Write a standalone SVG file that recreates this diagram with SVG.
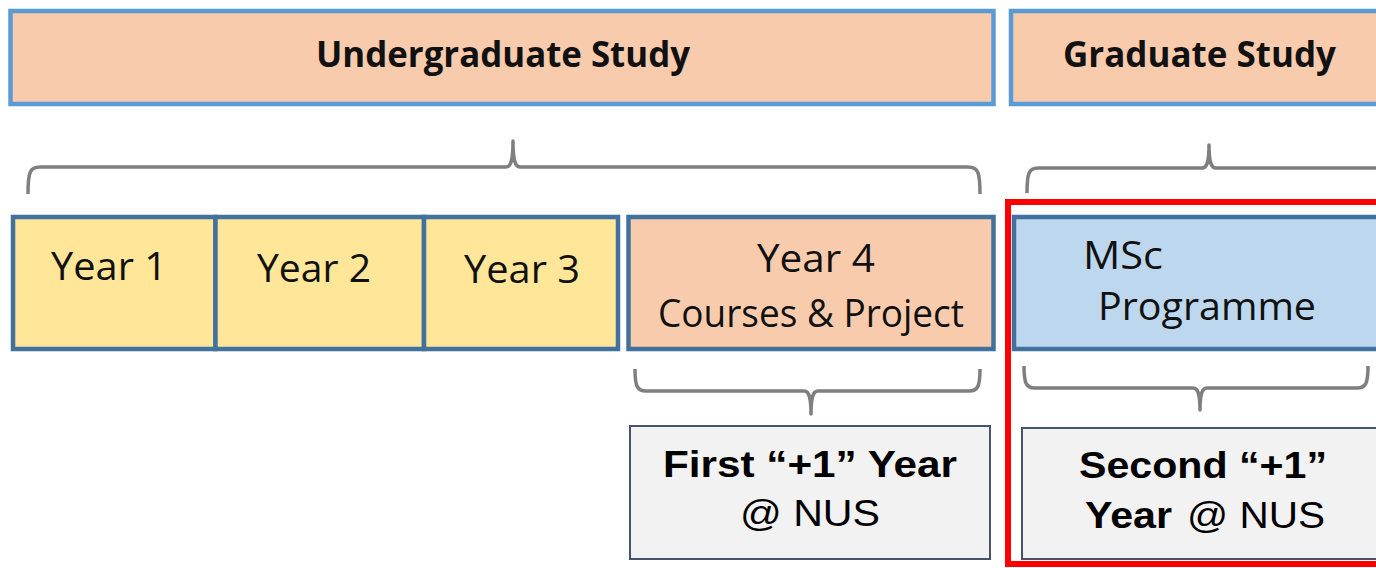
<svg xmlns="http://www.w3.org/2000/svg" width="1376" height="568" viewBox="0 0 1376 568">
<style>
.top{fill:#F8CBAD;stroke:#5B9BD5;stroke-width:4.5}
.yr{fill:#FFE699;stroke:#41719C;stroke-width:4.5}
.y4{fill:#F8CBAD;stroke:#41719C;stroke-width:4.5}
.msc{fill:#BDD7EE;stroke:#41719C;stroke-width:4.5}
.nus{fill:#F2F2F2;stroke:#44546A;stroke-width:2}
.brace{fill:none;stroke:#7F7F7F;stroke-width:3.5;stroke-linejoin:round}
.hl{fill:none;stroke:#FF0000;stroke-width:6}
.tb{font-family:"Open Sans","Liberation Sans",sans-serif;font-weight:bold;font-size:35px;fill:#111}
.tn{font-family:"Open Sans","Liberation Sans",sans-serif;font-size:39px;fill:#111}
.ab{font-family:"Liberation Sans",Arial,sans-serif;font-weight:bold;font-size:36px;fill:#000}
.an{font-family:"Liberation Sans",Arial,sans-serif;font-size:36px;fill:#000}
</style>
<rect width="1376" height="568" fill="#FFFFFF"/>
<g id="undergraduate">
<rect class="top" x="10.5" y="11" width="983" height="93"/>
<text class="tb" x="316" y="67" textLength="374" lengthAdjust="spacingAndGlyphs">Undergraduate Study</text>
</g>
<g id="graduate">
<rect class="top" x="1011" y="11" width="420" height="93"/>
<text class="tb" x="1063" y="67" textLength="273" lengthAdjust="spacingAndGlyphs">Graduate Study</text>
</g>
<g id="year1">
<rect class="yr" x="13" y="217" width="202.5" height="132"/>
<text class="tn" x="51" y="280" textLength="116" lengthAdjust="spacingAndGlyphs">Year 1</text>
</g>
<g id="year2">
<rect class="yr" x="215.5" y="217" width="208.5" height="132"/>
<text class="tn" x="257" y="282" textLength="114" lengthAdjust="spacingAndGlyphs">Year 2</text>
</g>
<g id="year3">
<rect class="yr" x="424" y="217" width="194" height="132"/>
<text class="tn" x="464" y="283" textLength="116" lengthAdjust="spacingAndGlyphs">Year 3</text>
</g>
<g id="year4">
<rect class="y4" x="628.5" y="217" width="365" height="132"/>
<text class="tn" x="757" y="272" font-size="40" textLength="118" lengthAdjust="spacingAndGlyphs">Year 4</text>
<text class="tn" x="658" y="327" font-size="35" textLength="306" lengthAdjust="spacingAndGlyphs">Courses &amp; Project</text>
</g>
<g id="msc">
<rect class="msc" x="1014" y="217" width="420" height="132"/>
<text class="tn" x="1083" y="269" font-size="37" textLength="80" lengthAdjust="spacingAndGlyphs">MSc</text>
<text class="tn" x="1098" y="320" font-size="38" textLength="218" lengthAdjust="spacingAndGlyphs">Programme</text>
</g>
<g id="first-plus-one">
<rect class="nus" x="630" y="426" width="360" height="133"/>
<text class="ab" x="663" y="477" textLength="294" lengthAdjust="spacingAndGlyphs">First “+1” Year</text>
<text class="an" x="740" y="526" textLength="140" lengthAdjust="spacingAndGlyphs">@ NUS</text>
</g>
<g id="second-plus-one">
<rect class="nus" x="1022" y="428" width="420" height="131"/>
<text class="ab" x="1079" y="478" textLength="248" lengthAdjust="spacingAndGlyphs">Second “+1”</text>
<text class="ab" x="1085" y="528" textLength="87" lengthAdjust="spacingAndGlyphs">Year</text>
<text class="an" x="1187" y="528" textLength="138" lengthAdjust="spacingAndGlyphs">@ NUS</text>
</g>
<g id="highlight">
<rect class="hl" x="1008" y="202" width="420" height="362"/>
</g>
<g id="connectors">
<path class="brace" d="M28,194 C28,172 30,167 40,167 L506,167 C511,167 513,160 513,141 C513,160 515,167 520,167 L968,167 C978,167 980,172 980,194"/>
<path class="brace" d="M1027,193 C1027,173 1029,168 1038,168 L1202,168 C1207,168 1209,162 1209,145 C1209,162 1211,168 1216,168 L1400,168"/>
<path class="brace" d="M635,369 C635,386 637,391 646,391 L804,391 C809,391 811,397 811,414 C811,397 813,391 818,391 L969,391 C978,391 980,386 980,369"/>
<path class="brace" d="M1024,366 C1024,383 1026,388 1035,388 L1193,388 C1198,388 1200,394 1200,410 C1200,394 1202,388 1207,388 L1357,388 C1366,388 1368,383 1368,366"/>
</g>
</svg>
